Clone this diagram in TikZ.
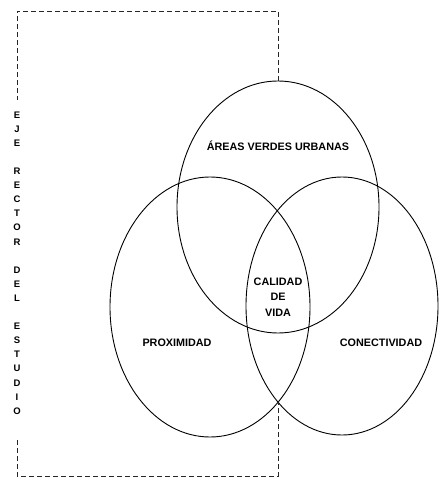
\documentclass[tikz,border=0pt]{standalone}
\usepackage{fontspec}
\setmainfont{Liberation Sans}
\usetikzlibrary{shapes.geometric}
\begin{document}
\begin{tikzpicture}[x=1pt,y=-1pt,
  venn/.style={draw=black,line width=0.9pt,ellipse,inner sep=0pt},
  dashline/.style={draw=black!85,line width=0.8pt,dash pattern=on 5pt off 3pt},
  lbl/.style={font=\fontsize{10.8}{15.5}\selectfont\bfseries,align=center,inner sep=0pt},
  axis/.style={font=\fontsize{9.5}{14.1}\selectfont\bfseries,align=center,inner sep=0pt}]
\useasboundingbox (0,0) rectangle (438,478);
\node[venn,minimum width=202pt,minimum height=252pt] (top) at (278,207) {};
\node[venn,minimum width=200pt,minimum height=260pt] (left) at (210,307) {};
\node[venn,minimum width=192pt,minimum height=258pt] (right) at (342,306) {};
\node[lbl] (areas) at (278,146) {ÁREAS VERDES URBANAS};
\node[lbl] (calidad) at (278,297) {CALIDAD\\DE\\VIDA};
\node[lbl] (prox) at (177,343) {PROXIMIDAD};
\node[lbl] (conec) at (381,343) {CONECTIVIDAD};
\node[axis] (eje) at (17,263) {E\\J\\E\\~\\R\\E\\C\\T\\O\\R\\~\\D\\E\\L\\~\\E\\S\\T\\U\\D\\I\\O};
\coordinate (tr) at (278,11);
\coordinate (tl) at (17,11);
\coordinate (lt) at (17,100);
\coordinate (lb) at (17,440);
\coordinate (bl) at (17,476);
\coordinate (br) at (278,476);
\coordinate (meet) at (278,402);
\draw[dashline] (top.north) -- (tr) -- (tl) -- (lt);
\draw[dashline] (lb) -- (bl) -- (br) -- (meet);
\end{tikzpicture}
\end{document}
